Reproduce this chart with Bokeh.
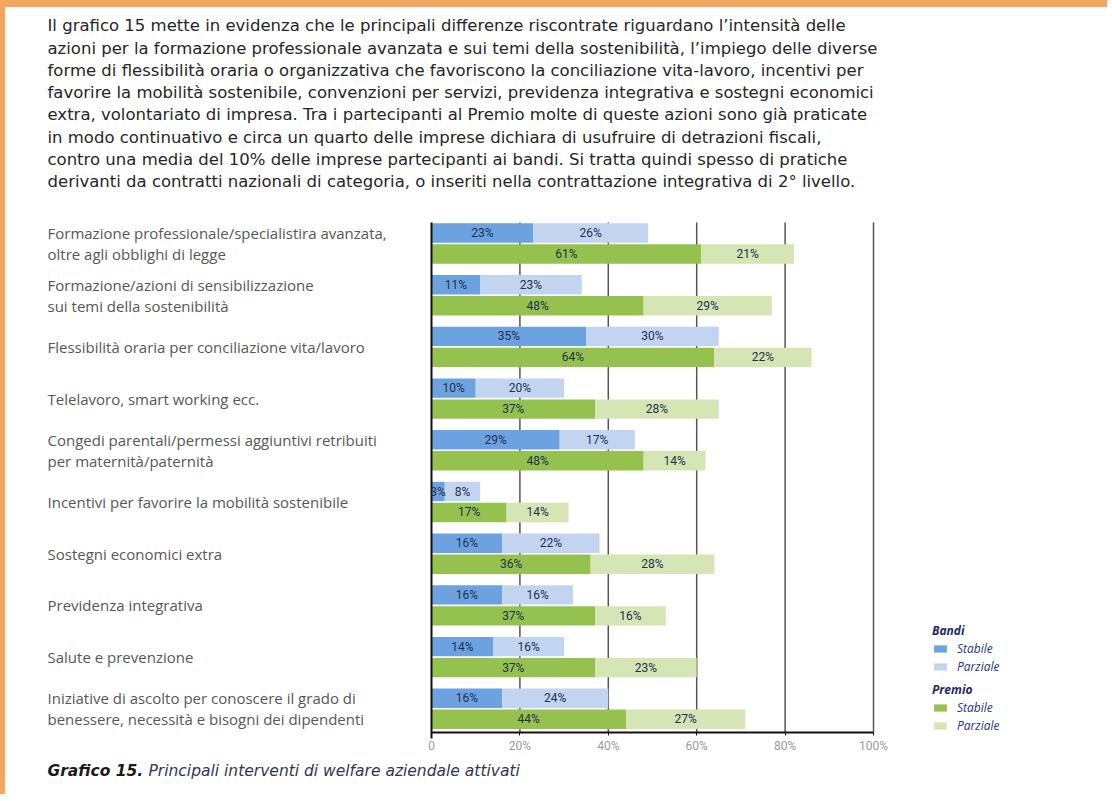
from bokeh.plotting import figure
from bokeh.models import (Range1d, Label, LabelSet, ColumnDataSource, Legend, LegendItem,
                          FixedTicker)
from bokeh.core.properties import value
from bokeh.embed import file_html
from bokeh.resources import INLINE

# ---------------- data ----------------
categories = [
    "Formazione professionale/specialistira avanzata,\noltre agli obblighi di legge",
    "Formazione/azioni di sensibilizzazione\nsui temi della sostenibilità",
    "Flessibilità oraria per conciliazione vita/lavoro",
    "Telelavoro, smart working ecc.",
    "Congedi parentali/permessi aggiuntivi retribuiti\nper maternità/paternità",
    "Incentivi per favorire la mobilità sostenibile",
    "Sostegni economici extra",
    "Previdenza integrativa",
    "Salute e prevenzione",
    "Iniziative di ascolto per conoscere il grado di\nbenessere, necessità e bisogni dei dipendenti",
]
bandi_stabile = [23, 11, 35, 10, 29, 3, 16, 16, 14, 16]
bandi_parziale = [26, 23, 30, 20, 17, 8, 22, 16, 16, 24]
premio_stabile = [61, 48, 64, 37, 48, 17, 36, 37, 37, 44]
premio_parziale = [21, 29, 22, 28, 14, 14, 28, 16, 23, 27]

x_ticks = [0, 20, 40, 60, 80, 100]
x_tick_labels = ["0", "20%", "40%", "60%", "80%", "100%"]

paragraph = [
    "Il grafico 15 mette in evidenza che le principali differenze riscontrate riguardano l\u2019intensità delle",
    "azioni per la formazione professionale avanzata e sui temi della sostenibilità, l\u2019impiego delle diverse",
    "forme di flessibilità oraria o organizzativa che favoriscono la conciliazione vita-lavoro, incentivi per",
    "favorire la mobilità sostenibile, convenzioni per servizi, previdenza integrativa e sostegni economici",
    "extra, volontariato di impresa. Tra i partecipanti al Premio molte di queste azioni sono già praticate",
    "in modo continuativo e circa un quarto delle imprese dichiara di usufruire di detrazioni fiscali,",
    "contro una media del 10% delle imprese partecipanti ai bandi. Si tratta quindi spesso di pratiche",
    "derivanti da contratti nazionali di categoria, o inseriti nella contrattazione integrativa di 2\u00b0 livello.",
]
caption_bold = "Grafico 15."
caption_rest = "Principali interventi di welfare aziendale attivati"

# ---------------- colours ----------------
C_BS = "#6ca2e0"
C_BP = "#c3d4f1"
C_PS = "#95c24f"
C_PP = "#d5e5b3"
ORANGE = "#f2a65e"

# ---------------- layout (page pixels) ----------------
BX, BY = 5, 7                  # orange border (left, top)
W, H = 1112 - BX, 801 - BY     # canvas size
MBL, MBB = 30, 21              # borders that hold the axes panels
FL, FR, FT, FB = BX + MBL, 1112, BY, 801 - MBB   # frame edges on the page
X0, PXU = 431, 4.42            # page x of value 0, px per percent
Y0, PYU = 243, 51.7            # page y of first category centre, px per category
AXIS_Y, PLOT_TOP = 732, 222

def dx(px):  # page x -> data x
    return (px - X0) / PXU

def dy(py):  # page y -> data y
    return (py - Y0) / PYU

def sx(px):  # page x -> frame screen x
    return px - FL

def sy(py):  # page y -> frame screen y (upwards)
    return FB - py

n = len(categories)
idx = list(range(n))
off = 0.203
bh = 0.375

p = figure(width=W, height=H, output_backend="svg", toolbar_location=None,
           x_range=Range1d(dx(FL), dx(FR)), y_range=Range1d(dy(FB), dy(FT)),
           min_border_left=MBL, min_border_right=0, min_border_top=0,
           min_border_bottom=MBB)
p.outline_line_color = None
p.background_fill_color = "white"
p.border_fill_color = "white"
p.styles = {"border-left": f"{BX}px solid {ORANGE}", "border-top": f"{BY}px solid {ORANGE}"}

src = ColumnDataSource(dict(
    yb=[i - off for i in idx], yp=[i + off for i in idx],
    bs=bandi_stabile, bp=bandi_parziale, ps=premio_stabile, pp=premio_parziale,
    bp_end=[a + b for a, b in zip(bandi_stabile, bandi_parziale)],
    pp_end=[a + b for a, b in zip(premio_stabile, premio_parziale)],
    bs_mid=[a / 2 for a in bandi_stabile],
    bp_mid=[a + b / 2 for a, b in zip(bandi_stabile, bandi_parziale)],
    ps_mid=[a / 2 for a in premio_stabile],
    pp_mid=[a + b / 2 for a, b in zip(premio_stabile, premio_parziale)],
    bs_t=[f"{v}%" for v in bandi_stabile], bp_t=[f"{v}%" for v in bandi_parziale],
    ps_t=[f"{v}%" for v in premio_stabile], pp_t=[f"{v}%" for v in premio_parziale],
))

# gridlines (only across the plotting area)
grid_x = [t for t in x_ticks if t > 0]
p.segment(x0=grid_x, x1=grid_x, y0=[dy(PLOT_TOP)] * len(grid_x), y1=[dy(AXIS_Y)] * len(grid_x),
          line_color="#555555", line_width=1.5, level="underlay")

r_bs = p.hbar(y="yb", left=0, right="bs", height=bh, source=src, color=C_BS, line_color=None)
r_bp = p.hbar(y="yb", left="bs", right="bp_end", height=bh, source=src, color=C_BP, line_color=None)
r_ps = p.hbar(y="yp", left=0, right="ps", height=bh, source=src, color=C_PS, line_color=None)
r_pp = p.hbar(y="yp", left="ps", right="pp_end", height=bh, source=src, color=C_PP, line_color=None)

for xcol, ycol, tcol in [("bs_mid", "yb", "bs_t"), ("bp_mid", "yb", "bp_t"),
                         ("ps_mid", "yp", "ps_t"), ("pp_mid", "yp", "pp_t")]:
    p.add_layout(LabelSet(x=xcol, y=ycol, text=tcol, source=src, text_align="center",
                          text_baseline="middle", text_font=value("Roboto"),
                          text_font_size=value("12px"), text_color="#22304f"))

# axes
p.xgrid.visible = False
p.ygrid.visible = False
xa = p.xaxis[0]
xa.fixed_location = dy(AXIS_Y)
xa.bounds = (0, 100)
xa.ticker = FixedTicker(ticks=x_ticks)
xa.major_label_overrides = {t: l for t, l in zip(x_ticks, x_tick_labels)}
xa.major_label_text_color = "#9a9a9a"
xa.major_label_text_font = "Roboto"
xa.major_label_text_font_size = "12px"
xa.axis_line_color = "#111111"
xa.axis_line_width = 2
xa.major_tick_line_color = "#111111"
xa.major_tick_out = 3
xa.major_tick_in = 0
xa.minor_tick_line_color = None
xa.major_label_standoff = 3

ya = p.yaxis[0]
ya.fixed_location = 0
ya.bounds = (dy(PLOT_TOP), dy(738))
ya.ticker = FixedTicker(ticks=[])
ya.major_label_text_font_size = "0px"
ya.axis_line_color = "#111111"
ya.axis_line_width = 2
ya.major_tick_line_color = None
ya.minor_tick_line_color = None

# category labels
for i, c in enumerate(categories):
    p.add_layout(Label(x=sx(47), x_units="screen", y=i, y_units="data", text=c,
                       text_align="left", text_baseline="middle",
                       text_font="Open Sans", text_font_size="15px",
                       text_color="#575757", text_line_height=1.07))

# paragraph
para_y = [25, 47.5, 70, 92, 114, 137, 159, 181]
for t, py in zip(paragraph, para_y):
    p.add_layout(Label(x=sx(47), x_units="screen", y=sy(py), y_units="screen", text=t,
                       text_align="left", text_baseline="middle",
                       text_font="DejaVu Sans", text_font_size="16.5px",
                       text_color="#262626"))

# caption
CAP_Y = 770
p.add_layout(Label(x=sx(47), x_units="screen", y=sy(CAP_Y), y_units="screen", text=caption_bold,
                   text_align="left", text_baseline="middle", text_font="DejaVu Sans",
                   text_font_size="15.5px", text_font_style="bold italic", text_color="#1a1a1a"))
p.add_layout(Label(x=sx(148), x_units="screen", y=sy(CAP_Y), y_units="screen", text=caption_rest,
                   text_align="left", text_baseline="middle", text_font="DejaVu Sans",
                   text_font_size="15.5px", text_font_style="italic", text_color="#2f3650"))

# legends
def mk_legend(title, items, loc):
    return Legend(items=items, title=title, location=loc, orientation="vertical",
                  background_fill_alpha=0, border_line_color=None,
                  padding=0, margin=0, spacing=0, label_height=18, glyph_height=9,
                  glyph_width=16, label_standoff=9,
                  title_text_font="Open Sans", title_text_font_size="12px",
                  title_text_font_style="bold italic", title_text_color="#1f2a60",
                  title_standoff=0,
                  label_text_font="Open Sans", label_text_font_size="12px",
                  label_text_font_style="italic", label_text_color="#26367a")

p.add_layout(mk_legend("Bandi", [LegendItem(label="Stabile", renderers=[r_bs]),
                                 LegendItem(label="Parziale", renderers=[r_bp])],
                       (sx(932), sy(675))))
p.add_layout(mk_legend("Premio", [LegendItem(label="Stabile", renderers=[r_ps]),
                                  LegendItem(label="Parziale", renderers=[r_pp])],
                       (sx(932), sy(734))))

open("out.html", "w").write(file_html(p, INLINE))
